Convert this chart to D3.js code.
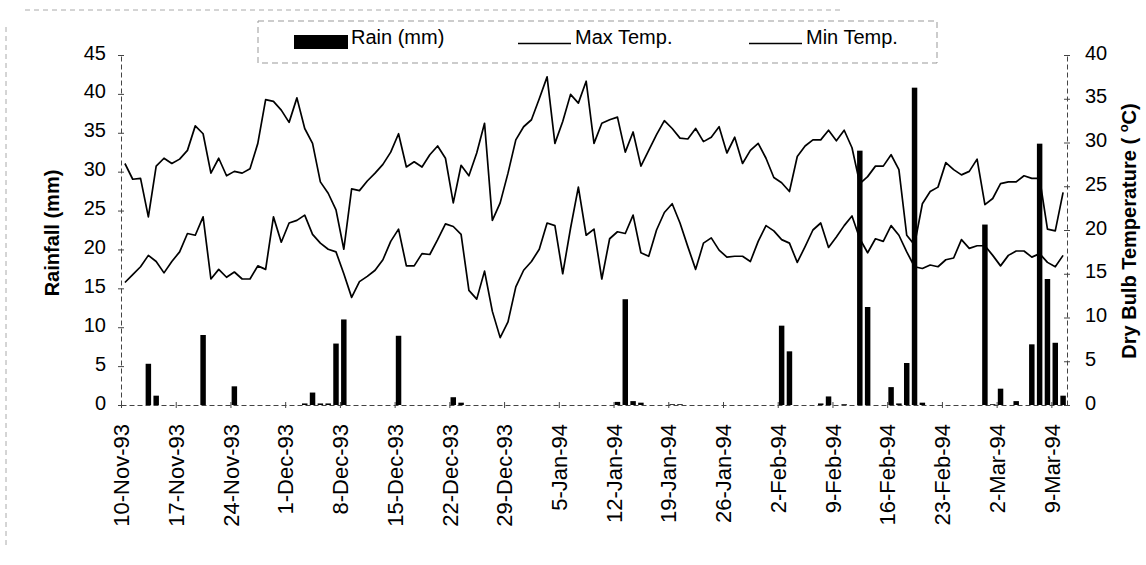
<!DOCTYPE html>
<html>
<head>
<meta charset="utf-8">
<script src="https://cdn.jsdelivr.net/npm/d3@7"></script>
<style>
  html, body { margin: 0; padding: 0; background: #fff; }
  svg { display: block; font-family: "Liberation Sans", Arial, sans-serif; }
</style>
</head>
<body>
<svg id="chart" width="1146" height="565"></svg>
<script>
// ---- DATA ----
const startDate = new Date(1993, 10, 10); // 10-Nov-93, first day (index 0)
const dayCount = 121;                     // 10-Nov-93 .. 10-Mar-94

// daily rainfall (mm), index = day from 10-Nov-93 (non-zero days only)
const rainDays = [3, 4, 10, 14, 23, 24, 25, 26, 27, 28, 35, 42, 43, 63, 64, 65, 66, 70, 71,
  84, 85, 89, 90, 92, 94, 95, 98, 99, 100, 101, 102, 110, 111, 112, 114, 116, 117, 118, 119, 120];
const rainMm = [5.3, 1.2, 9.0, 2.4, 0.2, 1.6, 0.2, 0.2, 7.9, 11.0, 8.9, 1.0, 0.3, 0.4, 13.6, 0.5, 0.3, 0.1, 0.1,
  10.2, 6.9, 0.2, 1.1, 0.1, 32.7, 12.6, 2.3, 0.2, 5.4, 40.8, 0.3, 23.2, 0.1, 2.1, 0.5, 7.8, 33.6, 16.2, 8.0, 1.2];

// daily max temperature (°C)
const maxTemp = [
  27.6, 25.8, 25.9, 21.5, 27.3, 28.2, 27.6, 28.1, 29.1, 31.9,
  31.0, 26.5, 28.2, 26.2, 26.7, 26.5, 27.0, 29.9, 34.9, 34.7,
  33.7, 32.3, 35.1, 31.6, 29.9, 25.5, 24.2, 22.3, 17.8, 24.7,
  24.5, 25.6, 26.5, 27.5, 28.9, 31.0, 27.2, 27.8, 27.2, 28.6,
  29.6, 28.2, 23.1, 27.4, 26.2, 28.8, 32.2, 21.1, 23.1, 26.5,
  30.3, 31.8, 32.6, 35.0, 37.5, 29.9, 32.4, 35.5, 34.5, 37.0,
  29.9, 32.2, 32.6, 32.9, 28.9, 31.2, 27.3, 29.1, 30.9, 32.5,
  31.6, 30.5, 30.4, 31.6, 30.1, 30.6, 31.8, 28.8, 30.6, 27.6,
  29.1, 29.9, 28.2, 26.0, 25.4, 24.4, 28.4, 29.6, 30.3, 30.3,
  31.4, 30.2, 31.4, 29.4, 25.3, 26.1, 27.3, 27.3, 28.6, 26.9,
  19.4, 18.3, 23.0, 24.4, 24.9, 27.7, 26.9, 26.3, 26.7, 28.1,
  22.9, 23.6, 25.3, 25.5, 25.5, 26.2, 25.9, 25.9, 20.1, 19.9,
  24.3
];

// daily min temperature (°C)
const minTemp = [
  14.0, 14.9, 15.8, 17.1, 16.4, 15.1, 16.4, 17.5, 19.6, 19.4,
  21.5, 14.4, 15.5, 14.6, 15.2, 14.4, 14.4, 15.9, 15.5, 21.5,
  18.6, 20.8, 21.1, 21.7, 19.5, 18.5, 17.8, 17.5, 15.0, 12.3,
  14.1, 14.7, 15.4, 16.6, 18.7, 20.1, 15.9, 15.9, 17.3, 17.2,
  18.9, 20.7, 20.4, 19.5, 13.1, 12.1, 15.3, 10.7, 7.7, 9.5,
  13.5, 15.4, 16.4, 17.8, 20.8, 20.5, 15.0, 20.2, 24.9, 19.4,
  20.1, 14.4, 19.0, 19.8, 19.6, 21.7, 17.4, 17.0, 20.0, 22.0,
  23.0, 20.8, 18.1, 15.5, 18.5, 19.1, 17.7, 16.9, 17.0, 17.0,
  16.4, 18.7, 20.5, 19.9, 18.9, 18.5, 16.3, 18.1, 20.0, 20.8,
  18.0, 19.2, 20.5, 21.6, 19.0, 17.4, 19.0, 18.7, 20.5, 19.4,
  17.5, 15.8, 15.6, 16.0, 15.8, 16.6, 16.8, 18.9, 17.9, 18.2,
  18.2, 17.1, 15.9, 17.1, 17.6, 17.6, 16.9, 17.3, 16.3, 15.8,
  17.1
];

const xTickLabels = ["10-Nov-93","17-Nov-93","24-Nov-93","1-Dec-93","8-Dec-93","15-Dec-93",
  "22-Dec-93","29-Dec-93","5-Jan-94","12-Jan-94","19-Jan-94","26-Jan-94","2-Feb-94",
  "9-Feb-94","16-Feb-94","23-Feb-94","2-Mar-94","9-Mar-94"];
const rainTicks = [0, 5, 10, 15, 20, 25, 30, 35, 40, 45];
const tempTicks = [0, 5, 10, 15, 20, 25, 30, 35, 40];

const seriesNames = ["Rain (mm)", "Max Temp.", "Min Temp."];

// ---- CHART ----
const svg = d3.select("#chart");
const endDate = d3.timeDay.offset(startDate, dayCount);

const x = d3.scaleTime().domain([startDate, endDate]).range([121, 1067]);
const yL = d3.scaleLinear().domain([0, 45]).range([405, 55]);
const yR = d3.scaleLinear().domain([0, 40]).range([405, 55]);

const dayDate = i => d3.timeDay.offset(startDate, i);
const dayMid = i => d3.timeHour.offset(dayDate(i), 12);
const dayW = x(dayDate(1)) - x(dayDate(0));

// faint outer frame (scanned page border)
svg.append("line").attr("x1", 25).attr("x2", 840).attr("y1", 10).attr("y2", 10)
  .attr("stroke", "#aaa").attr("stroke-dasharray", "5,4");
svg.append("line").attr("x1", 6).attr("x2", 6).attr("y1", 27).attr("y2", 548)
  .attr("stroke", "#aaa").attr("stroke-dasharray", "5,4");

// rain bars
const bw = dayW * 0.7;
svg.append("g").selectAll("rect").data(rainDays).join("rect")
  .attr("x", (d) => x(dayMid(d)) - bw / 2)
  .attr("width", bw)
  .attr("y", (d, k) => yL(rainMm[k]))
  .attr("height", (d, k) => yL(0) - yL(rainMm[k]))
  .attr("fill", "#000");

// temperature lines
const line = d3.line().x((d, i) => x(dayMid(i))).y(d => yR(d));
svg.append("path").datum(maxTemp).attr("d", line)
  .attr("fill", "none").attr("stroke", "#000").attr("stroke-width", 1.7).attr("stroke-linejoin", "round");
svg.append("path").datum(minTemp).attr("d", line)
  .attr("fill", "none").attr("stroke", "#000").attr("stroke-width", 1.7).attr("stroke-linejoin", "round");

// axes
const axisColor = "#444";
const tickDates = xTickLabels.map((t, k) => dayDate(k * 7));
const xAxis = d3.axisBottom(x).tickValues(tickDates).tickSize(0).tickFormat((d, k) => xTickLabels[k]);
const gx = svg.append("g").attr("transform", "translate(0,405)").call(xAxis);
gx.select(".domain").attr("stroke", axisColor).attr("stroke-dasharray", "5,3");
gx.selectAll(".tick line").remove();
gx.selectAll(".tick").append("line").attr("y1", -3).attr("y2", 3).attr("stroke", axisColor);
gx.selectAll(".tick text")
  .attr("transform", "rotate(-90)")
  .attr("text-anchor", "end")
  .attr("x", -19).attr("y", 0).attr("dy", "0.35em")
  .attr("font-size", 22).attr("fill", "#000")
  .attr("font-family", "Liberation Sans, Arial, sans-serif");

const yAxisL = d3.axisLeft(yL).tickValues(rainTicks).tickSize(0).tickPadding(0);
const gyl = svg.append("g").attr("transform", "translate(121,0)").call(yAxisL);
gyl.select(".domain").attr("stroke", axisColor).attr("stroke-dasharray", "5,3");
gyl.selectAll(".tick").append("line").attr("x1", -3).attr("x2", 3).attr("stroke", axisColor);
gyl.selectAll(".tick text").attr("x", -15).attr("dy", "0.2em")
  .attr("font-size", 20).attr("fill", "#000")
  .attr("font-family", "Liberation Sans, Arial, sans-serif");

const yAxisR = d3.axisRight(yR).tickValues(tempTicks).tickSize(0).tickPadding(0);
const gyr = svg.append("g").attr("transform", "translate(1067,0)").call(yAxisR);
gyr.select(".domain").attr("stroke", axisColor).attr("stroke-dasharray", "5,3");
gyr.selectAll(".tick").append("line").attr("x1", -3).attr("x2", 3).attr("stroke", axisColor);
gyr.selectAll(".tick text").attr("x", 18).attr("dy", "0.2em")
  .attr("font-size", 20).attr("fill", "#000")
  .attr("font-family", "Liberation Sans, Arial, sans-serif");

// axis titles
svg.append("text").attr("transform", "translate(52,233) rotate(-90)")
  .attr("text-anchor", "middle").attr("dy", "0.35em")
  .attr("font-size", 20).attr("font-weight", "bold").text("Rainfall (mm)");
const rt = svg.append("text").attr("transform", "translate(1129,231) rotate(-90)")
  .attr("text-anchor", "middle").attr("dy", "0.35em")
  .attr("font-size", 20).attr("font-weight", "bold");
rt.append("tspan").text("Dry Bulb Temperature ( ");
rt.append("tspan").attr("font-size", 13).attr("dy", "-0.6em").text("o");
rt.append("tspan").attr("dy", "0.4em").text("C)");

// legend
const lg = svg.append("g");
lg.append("rect").attr("x", 258).attr("y", 21).attr("width", 679).attr("height", 42)
  .attr("fill", "none").attr("stroke", "#999").attr("stroke-dasharray", "6,4");
lg.append("rect").attr("x", 294).attr("y", 35).attr("width", 54).attr("height", 14).attr("fill", "#000");
lg.append("text").attr("x", 351).attr("y", 44).attr("font-size", 20).text(seriesNames[0]);
lg.append("line").attr("x1", 518).attr("x2", 571).attr("y1", 43.5).attr("y2", 43.5)
  .attr("stroke", "#000").attr("stroke-width", 1.5);
lg.append("text").attr("x", 575).attr("y", 44).attr("font-size", 20).text(seriesNames[1]);
lg.append("line").attr("x1", 749).attr("x2", 802).attr("y1", 43.5).attr("y2", 43.5)
  .attr("stroke", "#000").attr("stroke-width", 1.5);
lg.append("text").attr("x", 806).attr("y", 44).attr("font-size", 20).text(seriesNames[2]);
</script>
</body>
</html>
